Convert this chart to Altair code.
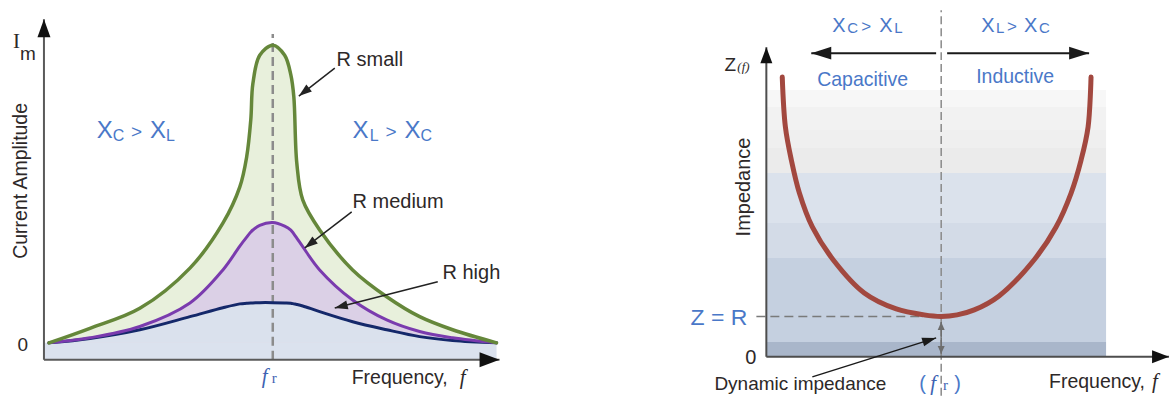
import math
import altair as alt
import pandas as pd

# ---------------- left panel: current amplitude vs frequency ----------------
# frequency in units of the resonant frequency f_r, current in units of I_m
freq = [0.022, 0.201, 0.419, 0.638, 0.782, 0.856, 0.886, 0.904, 0.913, 0.943, 1.0,
        1.052, 1.079, 1.092, 1.105, 1.131, 1.205, 1.349, 1.498, 1.642, 1.786, 1.978]
i_small = [0.0, 0.049, 0.116, 0.251, 0.402, 0.524, 0.625, 0.750, 0.870, 0.966, 1.0,
           0.966, 0.900, 0.827, 0.604, 0.480, 0.379, 0.245, 0.155, 0.088, 0.044, 0.0]
i_medium = [0.0, 0.017, 0.055, 0.134, 0.245, 0.325, 0.355, 0.372, 0.379, 0.395, 0.404,
            0.392, 0.379, 0.366, 0.352, 0.323, 0.245, 0.144, 0.077, 0.038, 0.017, 0.0]
i_high = [0.0, 0.015, 0.044, 0.088, 0.118, 0.131, 0.133, 0.134, 0.134, 0.135, 0.135,
          0.134, 0.133, 0.131, 0.129, 0.124, 0.105, 0.071, 0.044, 0.021, 0.008, 0.0]

# ---------------- right panel: impedance vs frequency ----------------
# frequency in units of f_r, impedance in units of R
z_freq = [0.091, 0.109, 0.143, 0.189, 0.263, 0.383, 0.560, 0.743, 0.903, 1.0,
          1.091, 1.189, 1.331, 1.531, 1.657, 1.743, 1.800, 1.840, 1.857]
z_value = [6.914, 5.679, 4.864, 4.049, 3.210, 2.395, 1.580, 1.185, 1.037, 1.0,
           1.037, 1.160, 1.506, 2.395, 3.210, 4.049, 4.864, 5.679, 6.914]

# stepped shading behind the impedance curve
band_low = [0.0, 0.370, 2.444, 3.309, 4.543, 5.160, 5.605, 6.173]
band_high = [0.370, 2.444, 3.309, 4.543, 5.160, 5.605, 6.173, 6.593]
band_color = ["#a9b6ca", "#c5d0e0", "#d3dbe7", "#dbe2ec",
              "#ebebeb", "#efefef", "#f2f2f2", "#f7f7f7"]

DARK = "#2d2828"
BLUE = "#4a78c8"
BLUE_F = "#3d62b2"
SANS = "Liberation Sans"
SERIF = "Liberation Serif"

H = 396


class Panel:
    def __init__(self, width, dom_x, dom_y):
        self.width = width
        self.sx = alt.Scale(domain=dom_x, nice=False, zero=False)
        self.sy = alt.Scale(domain=dom_y, nice=False, zero=False)
        # pixels per data unit, used to orient arrow heads
        self.kx = width / (dom_x[1] - dom_x[0])
        self.ky = H / (dom_y[1] - dom_y[0])

    def ch(self, x="x", y="y", x2=None, y2=None):
        d = dict(x=alt.X(f"{x}:Q", scale=self.sx, axis=None),
                 y=alt.Y(f"{y}:Q", scale=self.sy, axis=None))
        if x2:
            d["x2"] = alt.X2(x2)
        if y2:
            d["y2"] = alt.Y2(y2)
        return d


def segments(p, rows, color, width, dash=None):
    df = pd.DataFrame(rows, columns=["x", "y", "x2", "y2"])
    kw = dict(color=color, strokeWidth=width)
    if dash:
        kw["strokeDash"] = dash
    return alt.Chart(df).mark_rule(**kw).encode(**p.ch(x2="x2", y2="y2"))


def heads(p, rows, color, length, half):
    out = []
    for x0, y0, x1, y1 in rows:
        ang = math.degrees(math.atan2((x1 - x0) * p.kx, (y1 - y0) * p.ky)) % 360
        out.append((x1, y1, ang))
    df = pd.DataFrame(out, columns=["x", "y", "ang"])
    c = 2 * half / length
    shape = f"M0,0L{c:.3f},2L{-c:.3f},2Z"
    return alt.Chart(df).mark_point(
        shape=shape, filled=True, size=length ** 2, color=color,
        opacity=1, strokeWidth=0
    ).encode(**p.ch(), angle=alt.Angle("ang:Q", scale=None))


def arrows(p, rows, color, width, length, half):
    return [segments(p, rows, color, width), heads(p, rows, color, length, half)]


def labels(p, rows, **mark):
    df = pd.DataFrame(rows, columns=["text", "x", "y", "size", "color"])
    mk = dict(align="left", baseline="alphabetic", font=SANS)
    mk.update(mark)
    return alt.Chart(df).mark_text(**mk).encode(
        **p.ch(), text="text:N",
        size=alt.Size("size:Q", scale=None),
        color=alt.Color("color:N", scale=None),
    )


SMOOTH = "catmull-rom"

# ================= left panel =================
L = Panel(585, [-0.1921, 2.3624], [-0.1779, 1.1510])
AX_L = -0.057  # level of the frequency axis

curves = pd.DataFrame({"x": freq, "small": i_small, "medium": i_medium,
                       "high": i_high, "base": 0.0})


def fill(col, color):
    return alt.Chart(curves).mark_area(color=color, interpolate=SMOOTH).encode(
        **L.ch(y=col), y2=alt.Y2("base"))


def curve(col, color, width):
    return alt.Chart(curves).mark_line(
        color=color, strokeWidth=width, interpolate=SMOOTH, strokeCap="round"
    ).encode(**L.ch(y=col))


strip = alt.Chart(pd.DataFrame({"x": [0.0], "x2": [freq[-1]], "y": [AX_L], "y2": [0.0]})
                  ).mark_rect(color="#dbe2ee").encode(**L.ch(x2="x2", y2="y2"))

left_layers = [
    fill("small", "#e8f0dc"),
    fill("medium", "#dbd0e6"),
    fill("high", "#dae1ed"),
    strip,
    segments(L, [(1.0, AX_L, 1.0, 1.037)], "#8c8c8c", 2.5, [9, 5]),
    curve("high", "#14286a", 3),
    curve("medium", "#7a3bae", 3),
    curve("small", "#65873a", 3.5),
    segments(L, [(0.0, AX_L, 0.0, 1.087), (0.0, AX_L, 1.991, AX_L)], "#5a5a5a", 2),
    heads(L, [(0.0, AX_L, 0.0, 1.087)], "#111111", 18, 6.5),
    heads(L, [(0.0, AX_L, 1.991, AX_L)], "#111111", 20, 7.5),
    *arrows(L, [(1.271, 0.923, 1.114, 0.829),
                (1.345, 0.440, 1.140, 0.319),
                (1.721, 0.205, 1.271, 0.117)], "#222222", 1.5, 13, 4.5),
    labels(L, [("m", -0.105, 0.950, 19, DARK),
               ("R small", 1.279, 0.930, 20, DARK),
               ("R medium", 1.349, 0.453, 20, DARK),
               ("R high", 1.742, 0.215, 20, DARK),
               ("Frequency,", 1.345, -0.138, 19.5, DARK),
               ("X", 0.231, 0.688, 24, BLUE), ("C", 0.301, 0.678, 16, BLUE),
               (">", 0.380, 0.688, 19, BLUE),
               ("X", 0.463, 0.688, 24, BLUE), ("L", 0.533, 0.678, 16, BLUE),
               ("X", 1.349, 0.688, 24, BLUE), ("L", 1.424, 0.678, 16, BLUE),
               (">", 1.493, 0.688, 19, BLUE),
               ("X", 1.576, 0.688, 24, BLUE), ("C", 1.646, 0.678, 16, BLUE)]),
    labels(L, [("I", -0.135, 0.990, 21, DARK), ("r", 0.996, -0.134, 15, BLUE_F)],
           font=SERIF),
    labels(L, [("f", 0.952, -0.134, 21, BLUE_F), ("f", 1.817, -0.138, 21, DARK)],
           font=SERIF, fontStyle="italic"),
    labels(L, [("0", -0.070, -0.027, 19, DARK)], align="right"),
    labels(L, [("Current Amplitude", -0.074, 0.544, 19.5, DARK)],
           align="center", angle=270),
]
left = alt.layer(*left_layers).properties(width=L.width, height=H)

# ================= right panel =================
R = Panel(586, [-1.04, 2.3086], [-0.9630, 8.8148])

bands = pd.DataFrame({"x": 0.0, "x2": 1.943, "y": band_low, "y2": band_high,
                      "color": band_color})
band_layer = alt.Chart(bands).mark_rect().encode(
    **R.ch(x2="x2", y2="y2"), color=alt.Color("color:N", scale=None))

zdf = pd.DataFrame({"x": z_freq, "y": z_value})
z_curve = alt.Chart(zdf).mark_line(
    color="#a2483f", strokeWidth=5, interpolate=SMOOTH, strokeCap="round"
).encode(**R.ch())

right_layers = [
    band_layer,
    segments(R, [(1.0, -0.963, 1.0, 8.568)], "#8a8a8a", 1.5, [8, 4]),
    segments(R, [(-0.057, 1.0, 1.0, 1.0)], "#7a7a7a", 1.5, [9, 5]),
    z_curve,
    segments(R, [(0.0, 0.0, 0.0, 7.654), (0.0, 0.0, 2.303, 0.0)], "#4d4d4d", 2),
    heads(R, [(0.0, 0.0, 0.0, 7.654)], "#111111", 16, 6),
    heads(R, [(0.0, 0.0, 2.303, 0.0)], "#111111", 17, 6.5),
    *arrows(R, [(0.971, 7.506, 0.257, 7.506), (1.034, 7.506, 1.846, 7.506)],
            "#1a1a1a", 2, 20, 6.5),
    *arrows(R, [(1.0, 0.47, 1.0, 0.864), (1.0, 0.47, 1.0, 0.074)],
            "#6d6d6d", 1.5, 8, 3.5),
    *arrows(R, [(0.263, -0.494, 0.971, 0.469)], "#1a1a1a", 1.5, 14, 4.5),
    labels(R, [("Z", -0.240, 7.062, 19, DARK),
               ("Capacitive", 0.291, 6.691, 19.5, BLUE),
               ("Inductive", 1.200, 6.765, 19.5, BLUE),
               ("Dynamic impedance", -0.297, -0.815, 19, DARK),
               ("Frequency,", 1.617, -0.765, 19.5, DARK),
               ("X", 0.377, 8.025, 20, BLUE), ("C", 0.463, 8.0, 15, BLUE),
               (">", 0.543, 8.025, 17, BLUE),
               ("X", 0.646, 8.025, 20, BLUE), ("L", 0.731, 8.0, 15, BLUE),
               ("X", 1.229, 8.025, 20, BLUE), ("L", 1.314, 8.0, 15, BLUE),
               (">", 1.377, 8.025, 17, BLUE),
               ("X", 1.474, 8.025, 20, BLUE), ("C", 1.560, 8.0, 15, BLUE),
               ("(", 0.874, -0.815, 20, BLUE), (")", 1.074, -0.815, 20, BLUE)]),
    labels(R, [("r", 1.011, -0.815, 15, BLUE_F)], font=SERIF),
    labels(R, [("f", 0.937, -0.815, 21, BLUE_F), ("f", 2.206, -0.765, 21, DARK),
               ("(f)", -0.166, 7.062, 13, DARK)],
           font=SERIF, fontStyle="italic"),
    labels(R, [("Z = R", -0.109, 0.790, 23, BLUE), ("0", -0.057, -0.173, 20, DARK)],
           align="right"),
    labels(R, [("Impedance", -0.091, 4.198, 20, DARK)], align="center", angle=270),
]
right = alt.layer(*right_layers).properties(width=R.width, height=H)

chart = (
    alt.hconcat(left, right, spacing=0)
    .properties(padding=0, background="white")
    .configure_view(strokeWidth=0)
)

chart.save("out.html", embed_options={"renderer": "svg", "actions": False})
